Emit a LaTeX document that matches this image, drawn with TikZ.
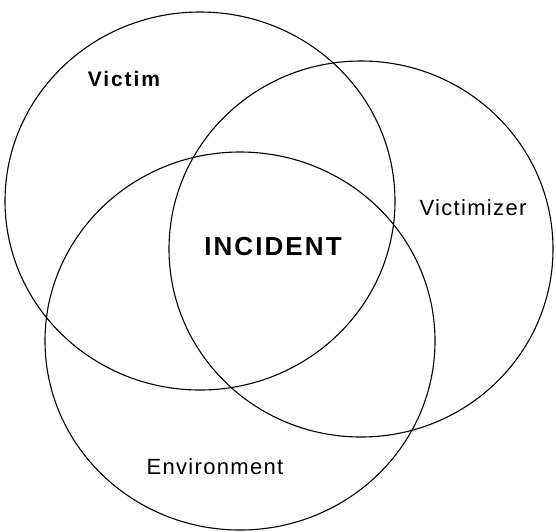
\documentclass[tikz,border=0pt]{standalone}
\usepackage{fontspec}
\setmainfont{Liberation Sans}
\newfontfamily\lblfont[LetterSpace=6]{Liberation Sans}
\newfontfamily\lblbold[LetterSpace=9]{Liberation Sans Bold}
\newfontfamily\midfont[LetterSpace=8]{Liberation Sans Bold}
\begin{document}
\begin{tikzpicture}[x=1pt,y=-1pt,
  ring/.style={draw=black,line width=1.1pt},
  lbl/.style={inner sep=0pt,font=\fontsize{22}{24}\selectfont\lblfont},
  lblb/.style={inner sep=0pt,font=\fontsize{21}{24}\selectfont\lblbold},
  mid/.style={inner sep=0pt,font=\fontsize{26}{28}\selectfont\midfont}]
\useasboundingbox (0,0) rectangle (556,531);
\draw[ring] (200,201) ellipse [x radius=195pt, y radius=189pt];
\draw[ring] (361,249) ellipse [x radius=192pt, y radius=188pt];
\draw[ring] (240,341) ellipse [x radius=195pt, y radius=189pt];
\node[lblb] (victim) at (124,79) {Victim};
\node[lbl] (victimizer) at (473,208) {Victimizer};
\node[mid] (incident) at (273,247) {INCIDENT};
\node[lbl] (environment) at (215,467) {Environment};
\end{tikzpicture}
\end{document}
